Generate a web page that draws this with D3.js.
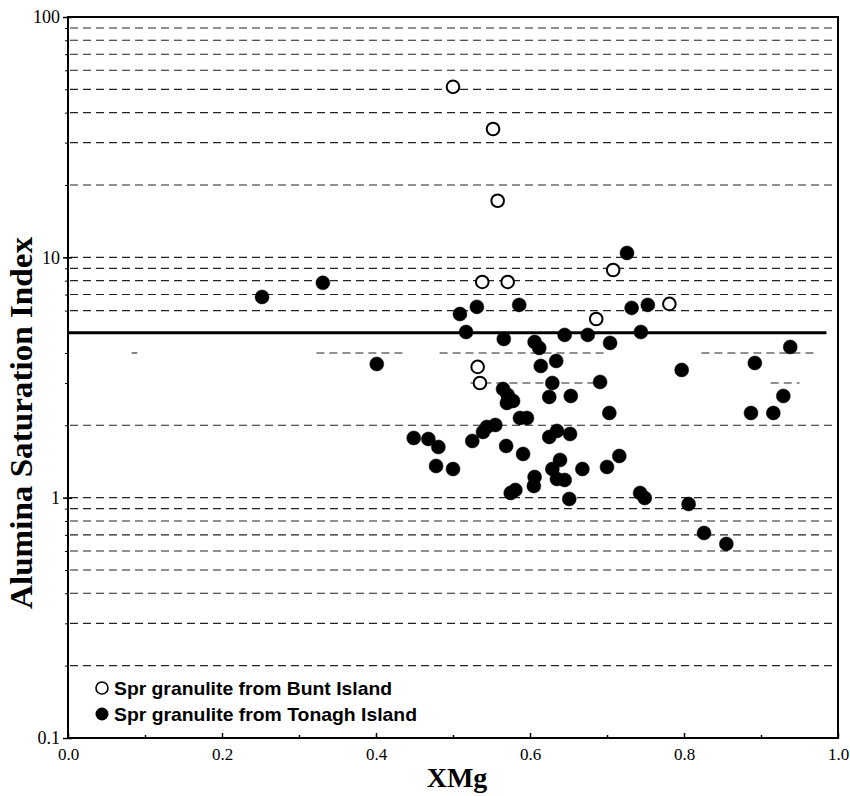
<!DOCTYPE html>
<html>
<head>
<meta charset="utf-8">
<script src="https://cdn.jsdelivr.net/npm/d3@7"></script>
<style>
  html, body { margin: 0; padding: 0; background: #fff; }
  svg { display: block; }
</style>
</head>
<body>
<svg id="chart" width="850" height="796"></svg>
<script>
// ---- data ----
const buntX = [0.500, 0.552, 0.558, 0.538, 0.571, 0.708, 0.781, 0.686, 0.532, 0.535];
const buntY = [51.2, 34.2, 17.2, 7.90, 7.90, 8.86, 6.40, 5.54, 3.50, 3.00];

const tonaghX = [0.252, 0.331, 0.401, 0.449, 0.468, 0.481, 0.478, 0.500, 0.509, 0.531,
                 0.517, 0.525, 0.539, 0.544, 0.555, 0.566, 0.586, 0.606, 0.612, 0.565,
                 0.571, 0.570, 0.578, 0.569, 0.587, 0.596, 0.591, 0.581, 0.575, 0.606,
                 0.605, 0.614, 0.634, 0.629, 0.625, 0.653, 0.645, 0.675, 0.704, 0.691,
                 0.703, 0.625, 0.635, 0.652, 0.639, 0.629, 0.635, 0.645, 0.668, 0.651,
                 0.700, 0.716, 0.726, 0.732, 0.753, 0.744, 0.797, 0.743, 0.749, 0.806,
                 0.826, 0.855, 0.892, 0.938, 0.929, 0.887, 0.916];
const tonaghY = [6.84, 7.83, 3.60, 1.772, 1.755, 1.625, 1.355, 1.316, 5.81, 6.22,
                 4.89, 1.722, 1.877, 1.969, 2.007, 4.575, 6.34, 4.445, 4.198, 2.834,
                 2.676, 2.478, 2.526, 1.641, 2.146, 2.146, 1.520, 1.077, 1.046, 1.219,
                 1.118, 3.532, 3.706, 3.00, 2.625, 2.650, 4.755, 4.755, 4.404, 3.03,
                 2.251, 1.789, 1.895, 1.841, 1.435, 1.316, 1.196, 1.185, 1.316, 0.988,
                 1.342, 1.491, 10.43, 6.16, 6.34, 4.89, 3.40, 1.046, 0.997, 0.941,
                 0.713, 0.642, 3.635, 4.238, 2.650, 2.251, 2.251];

const thresholdASI = 4.85;
const xTicks = [0, 0.2, 0.4, 0.6, 0.8, 1.0];
const xTickLabels = ["0.0", "0.2", "0.4", "0.6", "0.8", "1.0"];
const xMinorTicks = [0.1, 0.3, 0.5, 0.7, 0.9];
const yTicks = [0.1, 1, 10, 100];
const yTickLabels = ["0.1", "1", "10", "100"];
const gridValues = [0.2,0.3,0.4,0.5,0.6,0.7,0.8,0.9, 1,2,3,4,6,7,8,9, 10,20,30,40,50,60,70,80,90];
// gridlines at 3 and 4 are only partly visible in the original
const partialGrid = { 3: [[0.52, 0.70], [0.91, 0.95]],
                      4: [[0.08, 0.09], [0.32, 0.44], [0.48, 0.70], [0.82, 0.97]] };
const legendLabels = ["Spr granulite from Bunt Island", "Spr granulite from Tonagh Island"];

// ---- layout ----
const L = 68, R = 838, T = 17, B = 738;
const x = d3.scaleLinear().domain([0, 1]).range([L, R]);
const y = d3.scaleLog().domain([0.1, 100]).range([B, T]);
const svg = d3.select("#chart");
const serif = "'Liberation Serif', 'Times New Roman', serif";

// gridlines
const grid = svg.append("g");
gridValues.forEach(v => {
  const segs = partialGrid[v] || [[0, 1]];
  segs.forEach(s => {
    grid.append("line")
      .attr("x1", x(s[0]) + 2).attr("x2", x(s[1]))
      .attr("y1", y(v)).attr("y2", y(v))
      .attr("stroke", "#222").attr("stroke-width", 1.1)
      .attr("stroke-dasharray", "8,5");
  });
});

// threshold line
svg.append("line")
  .attr("x1", x(0)).attr("x2", x(0.985))
  .attr("y1", y(thresholdASI)).attr("y2", y(thresholdASI))
  .attr("stroke", "#000").attr("stroke-width", 3);

// frame
svg.append("rect").attr("x", L).attr("y", T).attr("width", R - L).attr("height", B - T)
  .attr("fill", "none").attr("stroke", "#000").attr("stroke-width", 2);

// x axis
const xAxis = d3.axisBottom(x).tickValues(xTicks).tickFormat((d, i) => xTickLabels[i]).tickSize(-5).tickPadding(10);
const gx = svg.append("g").attr("transform", `translate(0,${B})`).call(xAxis);
gx.select(".domain").remove();
gx.selectAll("text").attr("font-family", serif).attr("font-size", 17).attr("fill", "#000");
gx.selectAll("line").attr("stroke", "#000").attr("stroke-width", 1.5);
const gxm = svg.append("g").attr("transform", `translate(0,${B})`)
  .call(d3.axisBottom(x).tickValues(xMinorTicks).tickFormat("").tickSize(-3));
gxm.select(".domain").remove();
gxm.selectAll("line").attr("stroke", "#000").attr("stroke-width", 1.5);

// y axis
const yAxis = d3.axisLeft(y).tickValues(yTicks).tickFormat((d, i) => yTickLabels[i]).tickSize(5).tickPadding(3);
const gy = svg.append("g").attr("transform", `translate(${L},0)`).call(yAxis);
gy.select(".domain").remove();
gy.selectAll("text").attr("font-family", serif).attr("font-size", 18).attr("fill", "#000");
gy.selectAll("line").attr("stroke", "#000").attr("stroke-width", 1.5).attr("x2", -5).attr("x1", 4);
const gym = svg.append("g").attr("transform", `translate(${L},0)`)
  .call(d3.axisLeft(y).tickValues(gridValues).tickFormat("").tickSize(3));
gym.select(".domain").remove();
gym.selectAll("line").attr("stroke", "#000").attr("stroke-width", 1);

// axis titles
svg.append("text").attr("x", 457).attr("y", 787).attr("text-anchor", "middle")
  .attr("font-family", serif).attr("font-weight", "bold").attr("font-size", 28).text("XMg");
svg.append("text").attr("transform", "translate(32,423) rotate(-90)").attr("text-anchor", "middle")
  .attr("font-family", serif).attr("font-weight", "bold").attr("font-size", 31)
  .attr("textLength", 372).attr("lengthAdjust", "spacingAndGlyphs")
  .text("Alumina Saturation Index");

// points
const pts = svg.append("g");
pts.selectAll("circle.t").data(tonaghX.map((v, i) => [v, tonaghY[i]])).join("circle")
  .attr("class", "t").attr("cx", d => x(d[0])).attr("cy", d => y(d[1])).attr("r", 7)
  .attr("fill", "#000").attr("stroke", "#000").attr("stroke-width", 0.5);
pts.selectAll("circle.b").data(buntX.map((v, i) => [v, buntY[i]])).join("circle")
  .attr("class", "b").attr("cx", d => x(d[0])).attr("cy", d => y(d[1])).attr("r", 6.3)
  .attr("fill", "#fff").attr("stroke", "#000").attr("stroke-width", 2);

// legend
const lg = svg.append("g");
const legY = [688, 714];
const legW = [278, 303];
lg.append("circle").attr("cx", 102).attr("cy", legY[0]).attr("r", 6).attr("fill", "#fff").attr("stroke", "#000").attr("stroke-width", 1.6);
lg.append("circle").attr("cx", 102).attr("cy", legY[1]).attr("r", 6.5).attr("fill", "#000");
legendLabels.forEach((t, i) => {
  lg.append("text").attr("x", 114).attr("y", legY[i] + 7)
    .attr("font-family", "'Liberation Sans', Arial, sans-serif").attr("font-weight", "bold")
    .attr("font-size", 19).attr("textLength", legW[i]).attr("lengthAdjust", "spacingAndGlyphs")
    .text(t);
});
</script>
</body>
</html>
